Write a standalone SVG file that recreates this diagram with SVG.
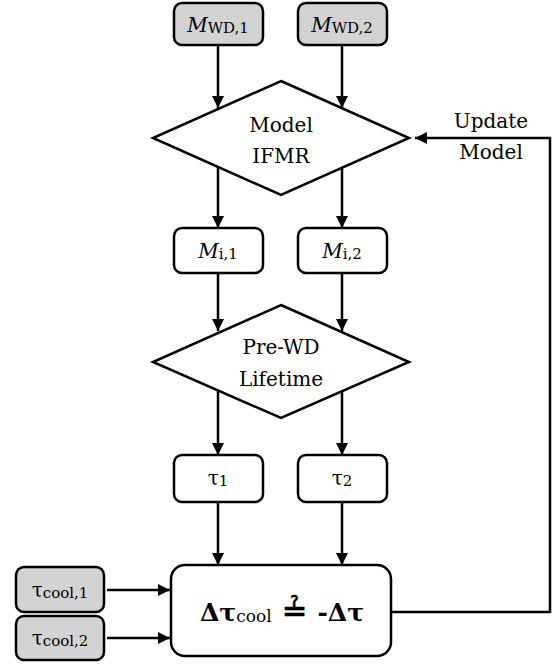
<svg xmlns="http://www.w3.org/2000/svg" width="556" height="664" viewBox="0 0 556 664">
<defs>
<marker id="ah" markerUnits="userSpaceOnUse" markerWidth="14" markerHeight="12" refX="12" refY="6" orient="auto">
<path d="M0,0 L12,6 L0,12 Z" fill="#000"/>
</marker>
<style>
.box{fill:#fff;stroke:#000;stroke-width:2.5}
.grey{fill:#d3d3d3;stroke:#000;stroke-width:2.5}
.dia{fill:#fff;stroke:#000;stroke-width:2.5;stroke-linejoin:miter}
.t{font-family:"DejaVu Serif",serif;font-size:20px;fill:#000;text-anchor:middle}
.sub{font-size:15px}
.c{fill:none;stroke:#000;stroke-width:2.5}
</style>
</defs>
<g id="connectors">
<line class="c" x1="218" y1="45" x2="218" y2="108" marker-end="url(#ah)"/>
<line class="c" x1="342" y1="45" x2="342" y2="108" marker-end="url(#ah)"/>
<line class="c" x1="218" y1="167" x2="218" y2="228" marker-end="url(#ah)"/>
<line class="c" x1="342" y1="167" x2="342" y2="228" marker-end="url(#ah)"/>
<line class="c" x1="218" y1="273" x2="218" y2="331" marker-end="url(#ah)"/>
<line class="c" x1="342" y1="273" x2="342" y2="331" marker-end="url(#ah)"/>
<line class="c" x1="218" y1="391" x2="218" y2="455" marker-end="url(#ah)"/>
<line class="c" x1="342" y1="391" x2="342" y2="455" marker-end="url(#ah)"/>
<line class="c" x1="218" y1="502" x2="218" y2="565" marker-end="url(#ah)"/>
<line class="c" x1="342" y1="502" x2="342" y2="565" marker-end="url(#ah)"/>
<line class="c" x1="107" y1="590" x2="170" y2="590" marker-end="url(#ah)"/>
<line class="c" x1="107" y1="638" x2="170" y2="638" marker-end="url(#ah)"/>
<polyline class="c" points="391,612 550,612 550,138 415,138" marker-end="url(#ah)"/>
<text class="t" x="491" y="128">Update</text>
<text class="t" x="491" y="159">Model</text>
</g>
<g id="mwd1">
<rect class="grey" x="174" y="3" width="89" height="42" rx="8"/>
<text class="t" x="218" y="32"><tspan font-style="italic">M</tspan><tspan class="sub" dy="1">WD,1</tspan></text>
</g>
<g id="mwd2">
<rect class="grey" x="298" y="3" width="89" height="42" rx="8"/>
<text class="t" x="342" y="32"><tspan font-style="italic">M</tspan><tspan class="sub" dy="1">WD,2</tspan></text>
</g>
<g id="ifmr">
<polygon class="dia" points="281,81 409,138 281,195 153,138"/>
<text class="t" x="281" y="132">Model</text>
<text class="t" x="281" y="163">IFMR</text>
</g>
<g id="mi1">
<rect class="box" x="174" y="228" width="89" height="45" rx="8"/>
<text class="t" x="218" y="258"><tspan font-style="italic">M</tspan><tspan class="sub" dy="1">i,1</tspan></text>
</g>
<g id="mi2">
<rect class="box" x="298" y="228" width="89" height="45" rx="8"/>
<text class="t" x="342" y="258"><tspan font-style="italic">M</tspan><tspan class="sub" dy="1">i,2</tspan></text>
</g>
<g id="prewd">
<polygon class="dia" points="281,305 409,362 281,418 153,362"/>
<text class="t" x="281" y="354">Pre-WD</text>
<text class="t" x="281" y="386">Lifetime</text>
</g>
<g id="tau1">
<rect class="box" x="174" y="455" width="89" height="47" rx="8"/>
<text class="t" x="218" y="485">τ<tspan class="sub" dy="1">1</tspan></text>
</g>
<g id="tau2">
<rect class="box" x="298" y="455" width="89" height="47" rx="8"/>
<text class="t" x="342" y="485">τ<tspan class="sub" dy="1">2</tspan></text>
</g>
<g id="tcool1">
<rect class="grey" x="16" y="567" width="88" height="45" rx="8"/>
<text class="t" x="60" y="597">τ<tspan class="sub" dy="1">cool,1</tspan></text>
</g>
<g id="tcool2">
<rect class="grey" x="16" y="616" width="88" height="44" rx="8"/>
<text class="t" x="60" y="645">τ<tspan class="sub" dy="1">cool,2</tspan></text>
</g>
<g id="compare">
<rect class="box" x="171" y="565" width="220" height="91" rx="14"/>
<text class="t" x="282" y="621" style="font-size:25px;font-weight:bold">Δτ<tspan style="font-size:17px;font-weight:normal" dy="1">cool</tspan><tspan dy="-1" style="font-size:30px"> ≟ </tspan>-Δτ</text>
</g>
</svg>
